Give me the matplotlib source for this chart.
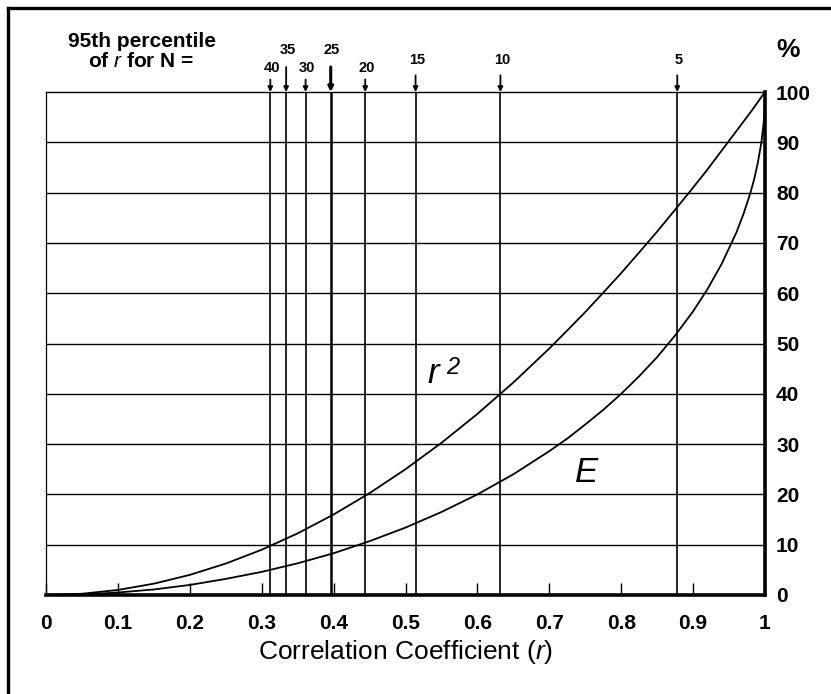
import numpy as np
import matplotlib
matplotlib.use('Agg')
from matplotlib import pyplot as plt
from matplotlib.lines import Line2D

plt.rcParams['font.family'] = ['Liberation Sans', 'DejaVu Sans']
plt.rcParams['mathtext.fontset'] = 'custom'
plt.rcParams['mathtext.rm'] = 'Liberation Sans'
plt.rcParams['mathtext.it'] = 'Liberation Sans:italic'

# valores
r_pts = [0, 0.05, 0.1, 0.15, 0.2, 0.25, 0.3, 0.35, 0.4, 0.45, 0.5, 0.55, 0.6,
         0.65, 0.7, 0.725, 0.75, 0.775, 0.8, 0.825, 0.85, 0.875, 0.9, 0.92,
         0.94, 0.96, 0.97, 0.98, 0.985, 0.99, 0.995, 0.998, 0.999, 1.0]
r_sq = [0, 0.25, 1.0, 2.25, 4.0, 6.25, 9.0, 12.25, 16.0, 20.25, 25.0, 30.25, 36.0,
        42.25, 49.0, 52.6, 56.25, 60.1, 64.0, 68.1, 72.25, 76.6, 81.0, 84.6,
        88.4, 92.2, 94.1, 96.0, 97.0, 98.0, 99.0, 99.6, 99.8, 100]
e_vals = [0, 0.1, 0.5, 1.1, 2.0, 3.2, 4.6, 6.3, 8.3, 10.7, 13.4, 16.5, 20.0,
          24.0, 28.6, 31.1, 33.9, 36.8, 40.0, 43.5, 47.3, 51.6, 56.4, 60.8,
          65.9, 72.0, 75.7, 80.1, 82.7, 85.9, 90.0, 93.7, 95.5, 100]

# percentil 95 de r para cada N
n_vals = [40, 35, 30, 25, 20, 15, 10, 5]
r_crit = [0.312, 0.334, 0.361, 0.396, 0.444, 0.514, 0.632, 0.878]

x_ticks = [0, 0.1, 0.2, 0.3, 0.4, 0.5, 0.6, 0.7, 0.8, 0.9, 1.0]
x_labels = ['0', '0.1', '0.2', '0.3', '0.4', '0.5', '0.6', '0.7', '0.8', '0.9', '1']
y_ticks = [0, 10, 20, 30, 40, 50, 60, 70, 80, 90, 100]

fig = plt.figure(figsize=(8.31, 6.94), dpi=100)
ax = fig.add_axes([46 / 831, 1 - 595 / 694, 719 / 831, 503 / 694])

# lineas horizontales
for y in y_ticks[1:-1]:
    ax.axhline(y, color='black', lw=1.0)

# lineas verticales de N
for n, r in zip(n_vals, r_crit):
    ax.vlines(r, 0, 100, color='black', lw=1.8 if n == 25 else 1.2)

ax.plot(r_pts, r_sq, color='black', lw=1.3)
ax.plot(r_pts, e_vals, color='black', lw=1.3)

ax.set_xlim(0, 1)
ax.set_ylim(0, 100)
ax.set_xticks(x_ticks)
ax.set_xticklabels(x_labels, fontweight='bold')
ax.set_yticks(y_ticks)
ax.set_yticklabels([str(v) for v in y_ticks], fontweight='bold')
ax.yaxis.tick_right()
ax.tick_params(axis='x', direction='in', length=9, width=1, pad=14, labelsize=15)
ax.tick_params(axis='y', length=0, pad=8, labelsize=15)
ax.tick_params(top=False, left=False)

ax.spines['left'].set_linewidth(0.9)
ax.spines['top'].set_linewidth(1.0)
ax.spines['bottom'].set_linewidth(2.6)
ax.spines['right'].set_linewidth(2.6)

ax.set_xlabel(r'Correlation Coefficient $\it{(r)}$', fontsize=19, labelpad=3)

# flechas y numeros arriba
for n, r in zip(n_vals, r_crit):
    if n in (40, 30, 20):
        arr, txt = 9, 12
    elif n in (35, 25):
        arr, txt = 18, 25
    else:
        arr, txt = 12, 18
    ax.annotate('', xy=(r, 100), xytext=(0, arr), textcoords='offset points',
                arrowprops=dict(arrowstyle='-|>', color='black',
                                lw=2.2 if n == 25 else 1.3,
                                mutation_scale=7, shrinkA=0, shrinkB=0),
                annotation_clip=False)
    ax.annotate(str(n), xy=(r, 100), xytext=(1, txt), textcoords='offset points',
                ha='center', va='bottom', fontsize=10.5, fontweight='bold',
                annotation_clip=False)

ax.text(142 / 831, 1 - 47 / 694, '95th percentile', transform=fig.transFigure,
        ha='center', va='baseline', fontsize=15, fontweight='bold')
ax.text(141 / 831, 1 - 67 / 694, r'of $\it{r}$ for N =', transform=fig.transFigure,
        ha='center', va='baseline', fontsize=15, fontweight='bold')
ax.text(788 / 831, 1 - 50 / 694, '%', transform=fig.transFigure,
        ha='center', va='center', fontsize=19, fontweight='bold')

# etiquetas de curvas
ax.text(0.530, 42.1, 'r', style='italic', fontsize=25, ha='left', va='baseline')
ax.text(0.557, 44.0, '2', style='italic', fontsize=17, ha='left', va='baseline')
ax.text(0.736, 22.5, 'E', style='italic', fontsize=25, ha='left', va='baseline')

# marco exterior
fig.add_artist(Line2D([8 / 831, 8 / 831], [0, 1 - 8 / 694], color='black', lw=2.4))
fig.add_artist(Line2D([8 / 831, 1], [1 - 8 / 694, 1 - 8 / 694], color='black', lw=2.4))

fig.savefig('out.png', dpi=100)
